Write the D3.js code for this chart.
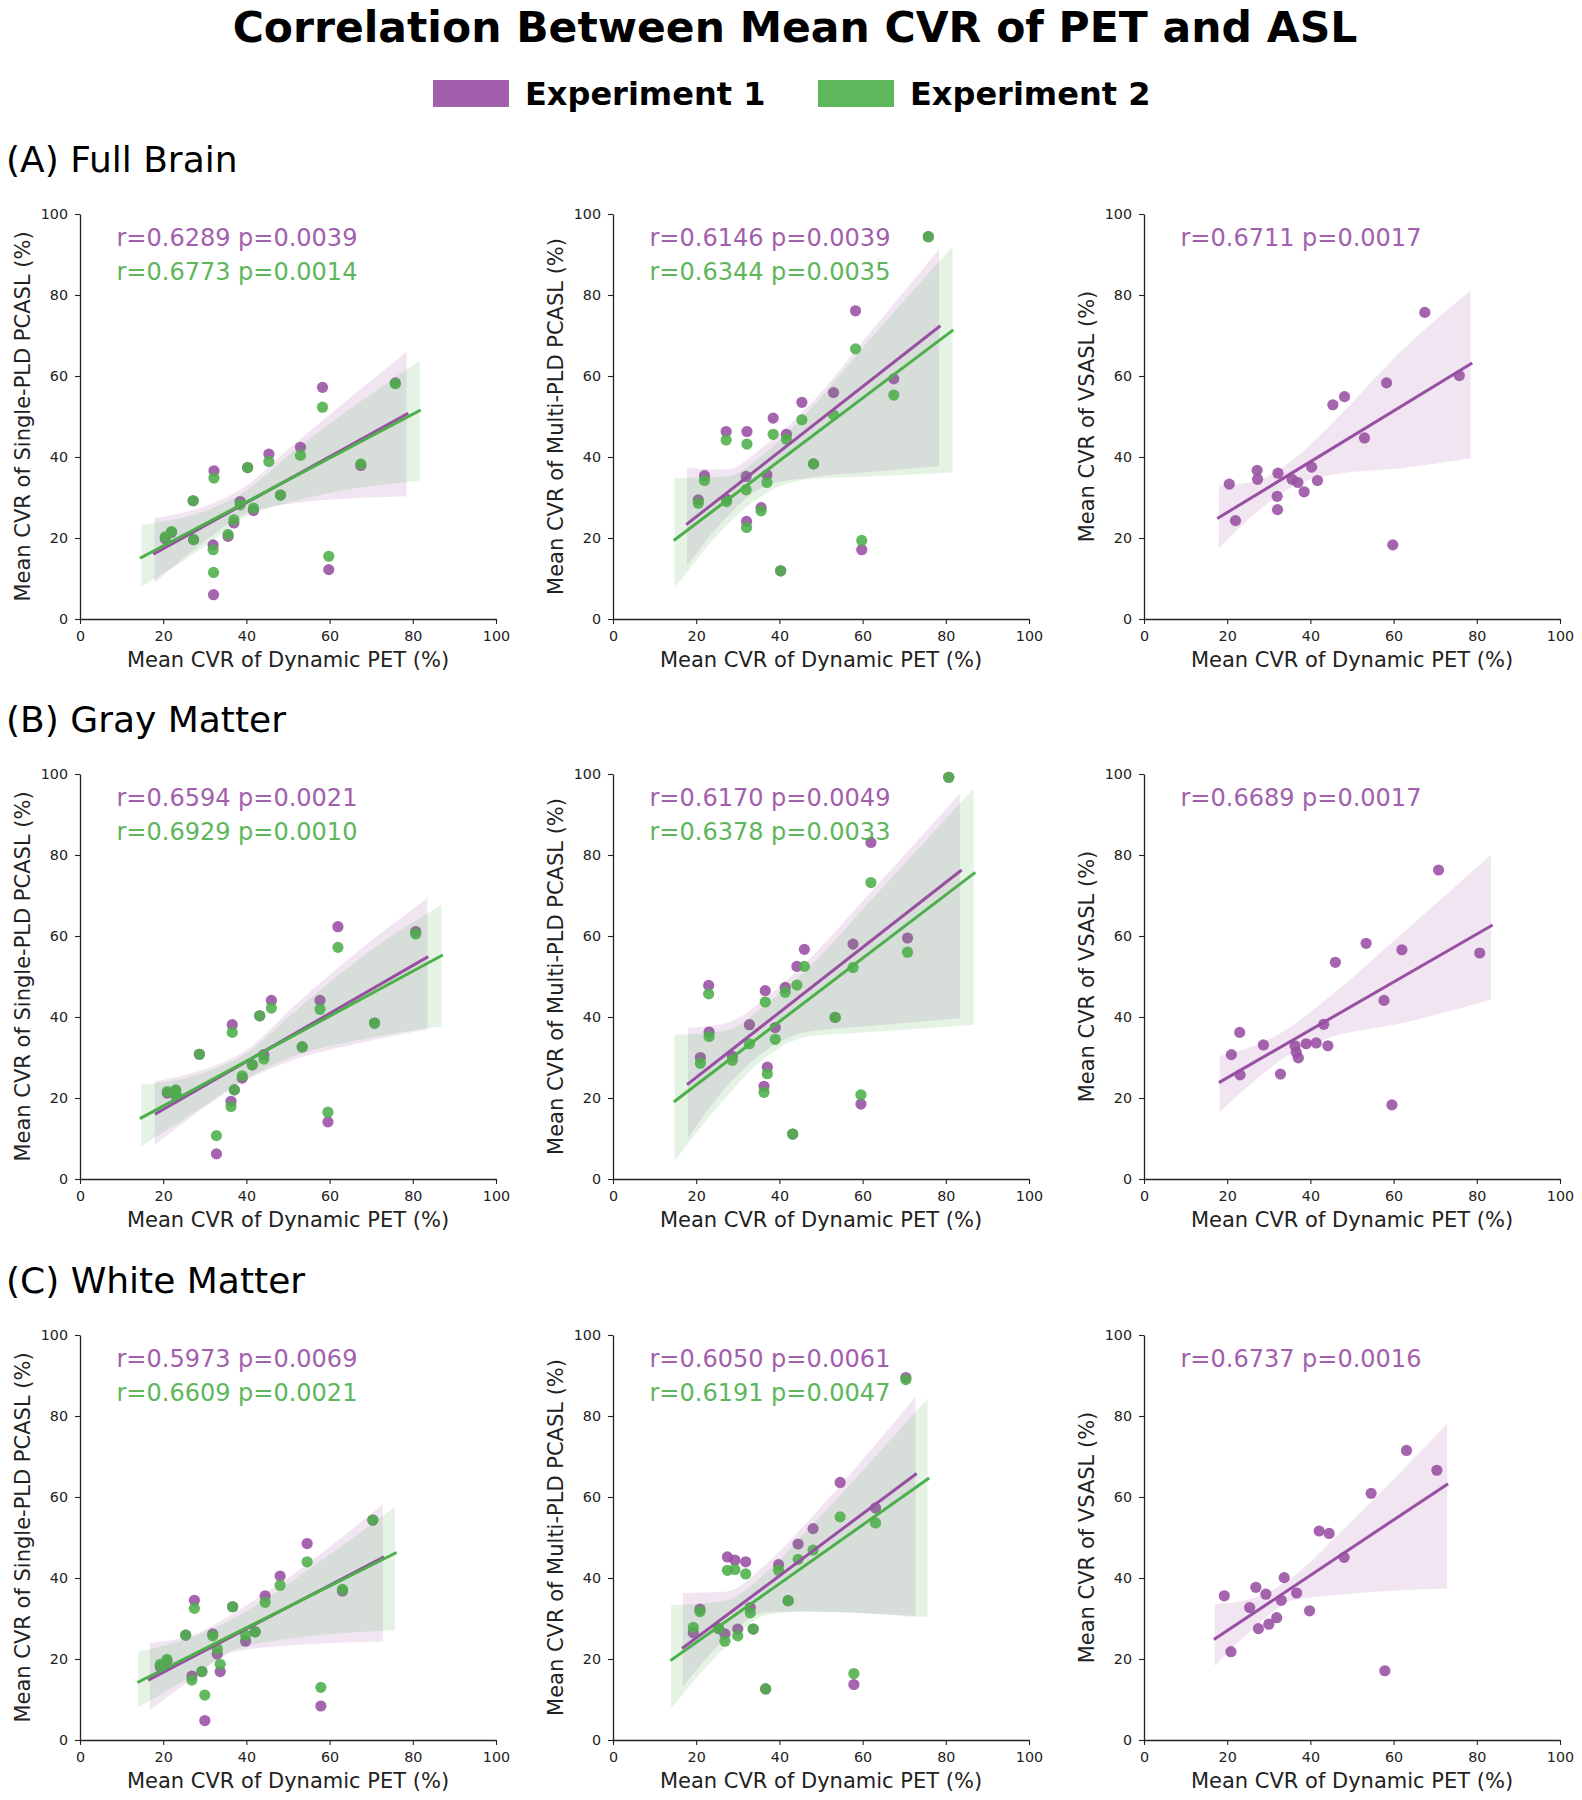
<!DOCTYPE html>
<html><head><meta charset="utf-8">
<script src="https://cdn.jsdelivr.net/npm/d3@7"></script>
<style>body{margin:0;background:#fff;} svg{display:block;font-family:"DejaVu Sans",sans-serif;}</style>
</head><body><svg id="chart" width="1582" height="1800"></svg>
<script>
// ---------- texts ----------
const title = "Correlation Between Mean CVR of PET and ASL";
const seriesNames = ["Experiment 1", "Experiment 2"];
const seriesColors = ["#984ea3", "#4daf4a"];
const regionLabels = ["(A) Full Brain", "(B) Gray Matter", "(C) White Matter"];
const xLabel = "Mean CVR of Dynamic PET (%)";
const yLabels = ["Mean CVR of Single-PLD PCASL (%)", "Mean CVR of Multi-PLD PCASL (%)", "Mean CVR of VSASL (%)"];
const tickValues = [0, 20, 40, 60, 80, 100];

// ---------- (A) Full Brain ----------
const petA = [20.5, 22.0, 27.2, 27.3, 32.2, 32.0, 32.1, 35.6, 37.0, 38.5, 40.3, 41.7, 45.4, 48.2, 53.0, 58.3, 59.8, 67.5, 75.8];
const singleA1 = [19.8, 21.4, 29.2, 19.6, 36.6, 18.3, 6.0, 20.4, 23.7, 29.0, 37.4, 26.8, 40.7, 30.6, 42.4, 57.2, 12.2, 37.9, 58.3];
const singleA2 = [20.3, 21.6, 29.2, 19.6, 34.8, 17.1, 11.5, 20.9, 24.5, 28.2, 37.4, 27.4, 38.9, 30.6, 40.4, 52.3, 15.5, 38.3, 58.1];
const multiA1 = [29.4, 35.4, 46.3, 29.6, 46.3, 35.2, 24.1, 27.5, 35.6, 49.6, 11.9, 45.6, 53.5, 38.3, 55.9, 76.1, 17.1, 59.3, 94.4];
const multiA2 = [28.6, 34.2, 44.2, 29.0, 43.2, 31.9, 22.6, 26.7, 33.7, 45.6, 11.9, 44.4, 49.2, 38.3, 50.4, 66.7, 19.4, 55.3, 94.4];
const vsaslA = [33.3, 24.3, 36.7, 34.5, 36.0, 30.3, 27.0, 34.5, 33.7, 31.4, 37.5, 34.2, 52.9, 54.9, 44.7, 58.3, 18.3, 75.7, 60.1];
const statsA = [["r=0.6289 p=0.0039", "r=0.6773 p=0.0014"], ["r=0.6146 p=0.0039", "r=0.6344 p=0.0035"], ["r=0.6711 p=0.0017"]];
// fitted lines [x0, y0, x1, y1]
const fitsA = [[[17.6, 16.0, 78.9, 50.8], [14.4, 15.0, 81.9, 51.6]],
               [[17.6, 23.3, 78.7, 72.4], [14.6, 19.4, 81.8, 71.4]],
               [[17.6, 24.8, 78.9, 63.2]]];
// confidence bands [x, lower, upper]
const bandA_single1 = [[17.9, 8.9, 24.9], [30.0, 19.2, 27.8], [38.5, 25.3, 31.9], [51.3, 28.6, 43.0], [78.5, 30.3, 66.0]];
const bandA_single2 = [[14.8, 8.1, 23.3], [30.0, 17.9, 26.6], [38.5, 24.5, 30.7], [51.3, 29.0, 41.4], [81.7, 34.2, 63.8]];
const bandA_multi1 = [[17.8, 13.0, 37.3], [27, 24.8, 36.9], [37, 33.0, 43.3], [47, 34.9, 52.6], [62, 36.3, 71.0], [78.4, 37.7, 91.3]];
const bandA_multi2 = [[14.8, 7.6, 34.8], [27, 22.8, 35.1], [37, 31.2, 41.3], [47, 34.5, 51.3], [62, 35.2, 69.3], [81.6, 36.2, 91.9]];
const bandA_vsasl = [[18.0, 17.5, 32.9], [27.8, 27.0, 34.4], [35.8, 32.7, 39.3], [45, 35.6, 48.1], [62.1, 37.3, 66.4], [78.5, 39.7, 81.1]];

// ---------- (B) Gray Matter ----------
const petB = [21.0, 23.0, 23.1, 28.7, 32.8, 36.3, 36.6, 37.1, 39.0, 41.4, 43.2, 44.2, 46.0, 53.4, 57.7, 59.6, 62.0, 70.8, 80.7];
const singleB1 = [21.2, 21.8, 20.5, 30.8, 6.2, 19.2, 38.1, 22.0, 24.9, 28.2, 40.3, 30.7, 44.1, 32.6, 44.1, 14.1, 62.3, 38.5, 61.1];
const singleB2 = [21.6, 22.0, 20.9, 30.8, 10.7, 17.9, 36.2, 22.0, 25.5, 28.2, 40.3, 29.6, 42.2, 32.6, 41.9, 16.5, 57.2, 38.5, 60.5];
const multiB1 = [30.0, 47.8, 36.3, 30.3, 38.1, 22.9, 46.5, 27.6, 37.4, 47.3, 11.1, 52.5, 56.7, 39.9, 58.0, 18.5, 83.1, 59.5, 99.2];
const multiB2 = [28.6, 45.7, 35.2, 29.3, 33.4, 21.4, 43.7, 26.0, 34.5, 46.1, 11.1, 47.9, 52.5, 39.9, 52.2, 20.8, 73.2, 56.0, 99.2];
const vsaslB = [30.7, 36.2, 25.7, 33.1, 25.9, 32.9, 31.3, 29.9, 33.4, 33.6, 38.2, 32.9, 53.5, 58.2, 44.1, 18.3, 56.6, 76.3, 55.8];
const statsB = [["r=0.6594 p=0.0021", "r=0.6929 p=0.0010"], ["r=0.6170 p=0.0049", "r=0.6378 p=0.0033"], ["r=0.6689 p=0.0017"]];
const fitsB = [[[18.0, 16.0, 83.7, 54.9], [14.4, 14.9, 87.2, 55.3]],
               [[17.8, 23.3, 83.8, 76.3], [14.6, 19.0, 87.1, 75.7]],
               [[18.0, 23.8, 83.8, 62.7]]];
const bandB_single1 = [[18.0, 8.5, 24.1], [29.6, 17.5, 27.0], [40.1, 24.5, 31.9], [51.3, 29.4, 42.6], [67.3, 33.6, 56.6], [83.5, 37.0, 69.3]];
const bandB_single2 = [[14.7, 8.1, 23.3], [29.6, 17.9, 26.2], [40.1, 24.9, 31.1], [51.3, 30.3, 41.0], [67.3, 34.4, 54.5], [86.9, 37.7, 67.7]];
const bandB_multi1 = [[18.0, 10.1, 37.3], [27, 22.4, 38.4], [37, 31.9, 44.9], [47, 36.4, 54.1], [62, 37.8, 70.9], [83.4, 39.7, 95.2]];
const bandB_multi2 = [[14.8, 4.4, 35.6], [27, 20.0, 36.6], [37, 30.3, 43.3], [47, 35.2, 52.1], [62, 36.3, 68.8], [86.7, 38.1, 96.5]];
const bandB_vsasl = [[18.2, 16.5, 30.4], [27, 24.6, 33.1], [35, 30.8, 37.4], [44, 34.7, 44.5], [63, 38.7, 61.5], [83.4, 44.4, 80.0]];

// ---------- (C) White Matter ----------
const petC = [19.3, 20.9, 25.4, 26.9, 27.5, 29.3, 30.0, 31.9, 33.0, 33.7, 36.7, 39.8, 42.1, 44.5, 48.1, 54.6, 57.9, 63.1, 70.4];
const singleC1 = [18.1, 19.5, 25.9, 15.8, 34.5, 16.9, 4.8, 26.2, 21.2, 16.9, 32.9, 24.4, 26.7, 35.6, 40.5, 48.5, 8.4, 36.8, 54.3];
const singleC2 = [18.7, 19.9, 25.9, 14.8, 32.5, 16.9, 11.1, 25.7, 22.5, 18.7, 32.9, 25.9, 26.7, 34.0, 38.2, 44.0, 13.0, 37.2, 54.3];
const multiC1 = [26.5, 32.3, 27.5, 26.2, 45.2, 44.4, 27.4, 44.0, 32.7, 27.4, 12.6, 43.3, 34.4, 48.4, 52.2, 63.6, 13.7, 57.3, 89.5];
const multiC2 = [27.8, 31.7, 27.5, 24.4, 41.9, 42.1, 25.7, 41.0, 31.4, 27.4, 12.6, 41.9, 34.4, 44.6, 46.9, 55.1, 16.4, 53.6, 89.0];
const vsaslC = [35.6, 21.8, 32.7, 37.7, 27.5, 36.0, 28.6, 30.2, 34.5, 40.1, 36.3, 31.9, 51.6, 51.0, 45.1, 60.9, 17.1, 71.5, 66.6];
const statsC = [["r=0.5973 p=0.0069", "r=0.6609 p=0.0021"], ["r=0.6050 p=0.0061", "r=0.6191 p=0.0047"], ["r=0.6737 p=0.0016"]];
const fitsC = [[[16.4, 14.8, 73.1, 45.2], [13.8, 14.2, 76.1, 46.3]],
               [[16.6, 22.6, 73.0, 65.8], [13.8, 19.6, 76.0, 64.7]],
               [[16.8, 24.8, 73.1, 63.3]]];
const bandC_single1 = [[16.8, 7.4, 24.0], [27.2, 15.2, 25.9], [36.9, 21.8, 31.3], [51.3, 23.4, 41.0], [72.8, 24.3, 58.2]];
const bandC_single2 = [[14.0, 8.1, 21.8], [27.2, 16.0, 25.5], [36.9, 22.2, 30.0], [51.3, 25.1, 39.5], [75.7, 27.1, 57.6]];
const bandC_multi1 = [[16.8, 13.2, 36.3], [27, 25.0, 36.6], [37, 31.6, 43.6], [47, 31.7, 54.2], [72.7, 30.4, 84.7]];
const bandC_multi2 = [[14.0, 7.8, 33.3], [27, 22.9, 34.4], [37, 30.9, 41.5], [47, 31.7, 52.1], [75.6, 30.4, 84.3]];
const bandC_vsasl = [[17.0, 18.3, 33.5], [26.2, 27.5, 35.0], [35.8, 34.5, 40.3], [46.1, 35.8, 50.2], [72.9, 37.4, 78.1]];

// ---------- assemble table ----------
const regions = [
  {label: regionLabels[0], pet: petA, ys: [[singleA1, singleA2], [multiA1, multiA2], [vsaslA]], fits: fitsA,
   bands: [[bandA_single1, bandA_single2], [bandA_multi1, bandA_multi2], [bandA_vsasl]], stats: statsA},
  {label: regionLabels[1], pet: petB, ys: [[singleB1, singleB2], [multiB1, multiB2], [vsaslB]], fits: fitsB,
   bands: [[bandB_single1, bandB_single2], [bandB_multi1, bandB_multi2], [bandB_vsasl]], stats: statsB},
  {label: regionLabels[2], pet: petC, ys: [[singleC1, singleC2], [multiC1, multiC2], [vsaslC]], fits: fitsC,
   bands: [[bandC_single1, bandC_single2], [bandC_multi1, bandC_multi2], [bandC_vsasl]], stats: statsC}
];

// ---------- layout ----------
const colX = [80, 613, 1144];
const rowY = [214, 774, 1335];
const W = 416, H = 405;
const ink = "#222";

const svg = d3.select("#chart");

svg.append("text").attr("x", 795).attr("y", 42).attr("text-anchor", "middle")
  .attr("font-size", 42.5).attr("font-weight", "bold").attr("fill", "#000").text(title);

const legendX = [433, 818];
seriesNames.forEach((name, i) => {
  svg.append("rect").attr("x", legendX[i]).attr("y", 80).attr("width", 76).attr("height", 27)
    .attr("fill", seriesColors[i]).attr("opacity", 0.9);
  svg.append("text").attr("x", legendX[i] + 92).attr("y", 105).attr("font-size", 32)
    .attr("font-weight", "bold").attr("fill", "#000").text(name);
});

const x = d3.scaleLinear().domain([0, 100]).range([0, W]);
const y = d3.scaleLinear().domain([0, 100]).range([H, 0]);
const area = d3.area().x(d => x(d[0])).y0(d => y(d[1])).y1(d => y(d[2])).curve(d3.curveMonotoneX);

regions.forEach((reg, r) => {
  svg.append("text").attr("x", 6).attr("y", rowY[r] - 42).attr("font-size", 36).attr("fill", "#000").text(reg.label);

  reg.ys.forEach((seriesList, c) => {
    const g = svg.append("g").attr("transform", `translate(${colX[c]},${rowY[r]})`);

    // scatter + band per series (seaborn order), lines on top
    seriesList.forEach((ys, s) => {
      g.append("g").selectAll("circle").data(reg.pet.map((px, i) => [px, ys[i]])).join("circle")
        .attr("cx", d => x(d[0])).attr("cy", d => y(d[1])).attr("r", 5.6)
        .attr("fill", seriesColors[s]).attr("opacity", 0.88);
      g.append("path").datum(reg.bands[c][s]).attr("d", area)
        .attr("fill", seriesColors[s]).attr("opacity", 0.15);
    });
    seriesList.forEach((ys, s) => {
      const f = reg.fits[c][s];
      g.append("line").attr("x1", x(f[0])).attr("y1", y(f[1])).attr("x2", x(f[2])).attr("y2", y(f[3]))
        .attr("stroke", seriesColors[s]).attr("stroke-width", 3).attr("stroke-linecap", "butt");
    });

    // axes
    const xa = g.append("g").attr("transform", `translate(0,${H})`)
      .call(d3.axisBottom(x).tickValues(tickValues).tickSize(5).tickSizeOuter(0).tickPadding(7));
    const ya = g.append("g")
      .call(d3.axisLeft(y).tickValues(tickValues).tickSize(5).tickSizeOuter(0).tickPadding(7));
    [xa, ya].forEach(a => {
      a.select(".domain").attr("stroke", ink).attr("stroke-width", 1.3);
      a.selectAll(".tick line").attr("stroke", ink).attr("stroke-width", 1.1);
      a.selectAll(".tick text").attr("fill", ink).attr("font-size", 14.3)
        .attr("font-family", "DejaVu Sans, sans-serif");
    });

    // axis labels
    g.append("text").attr("x", W / 2).attr("y", H + 47.5).attr("text-anchor", "middle")
      .attr("font-size", 21).attr("fill", ink).text(xLabel);
    g.append("text").attr("transform", `translate(-50,${H / 2}) rotate(-90)`).attr("text-anchor", "middle")
      .attr("font-size", 21).attr("fill", ink).text(yLabels[c]);

    // stats annotation
    reg.stats[c].forEach((t, s) => {
      g.append("text").attr("x", 36.5).attr("y", 31.5 + s * 34.5).attr("font-size", 24)
        .attr("fill", seriesColors[s]).attr("opacity", 0.9).text(t);
    });
  });
});
</script>
</body></html>
